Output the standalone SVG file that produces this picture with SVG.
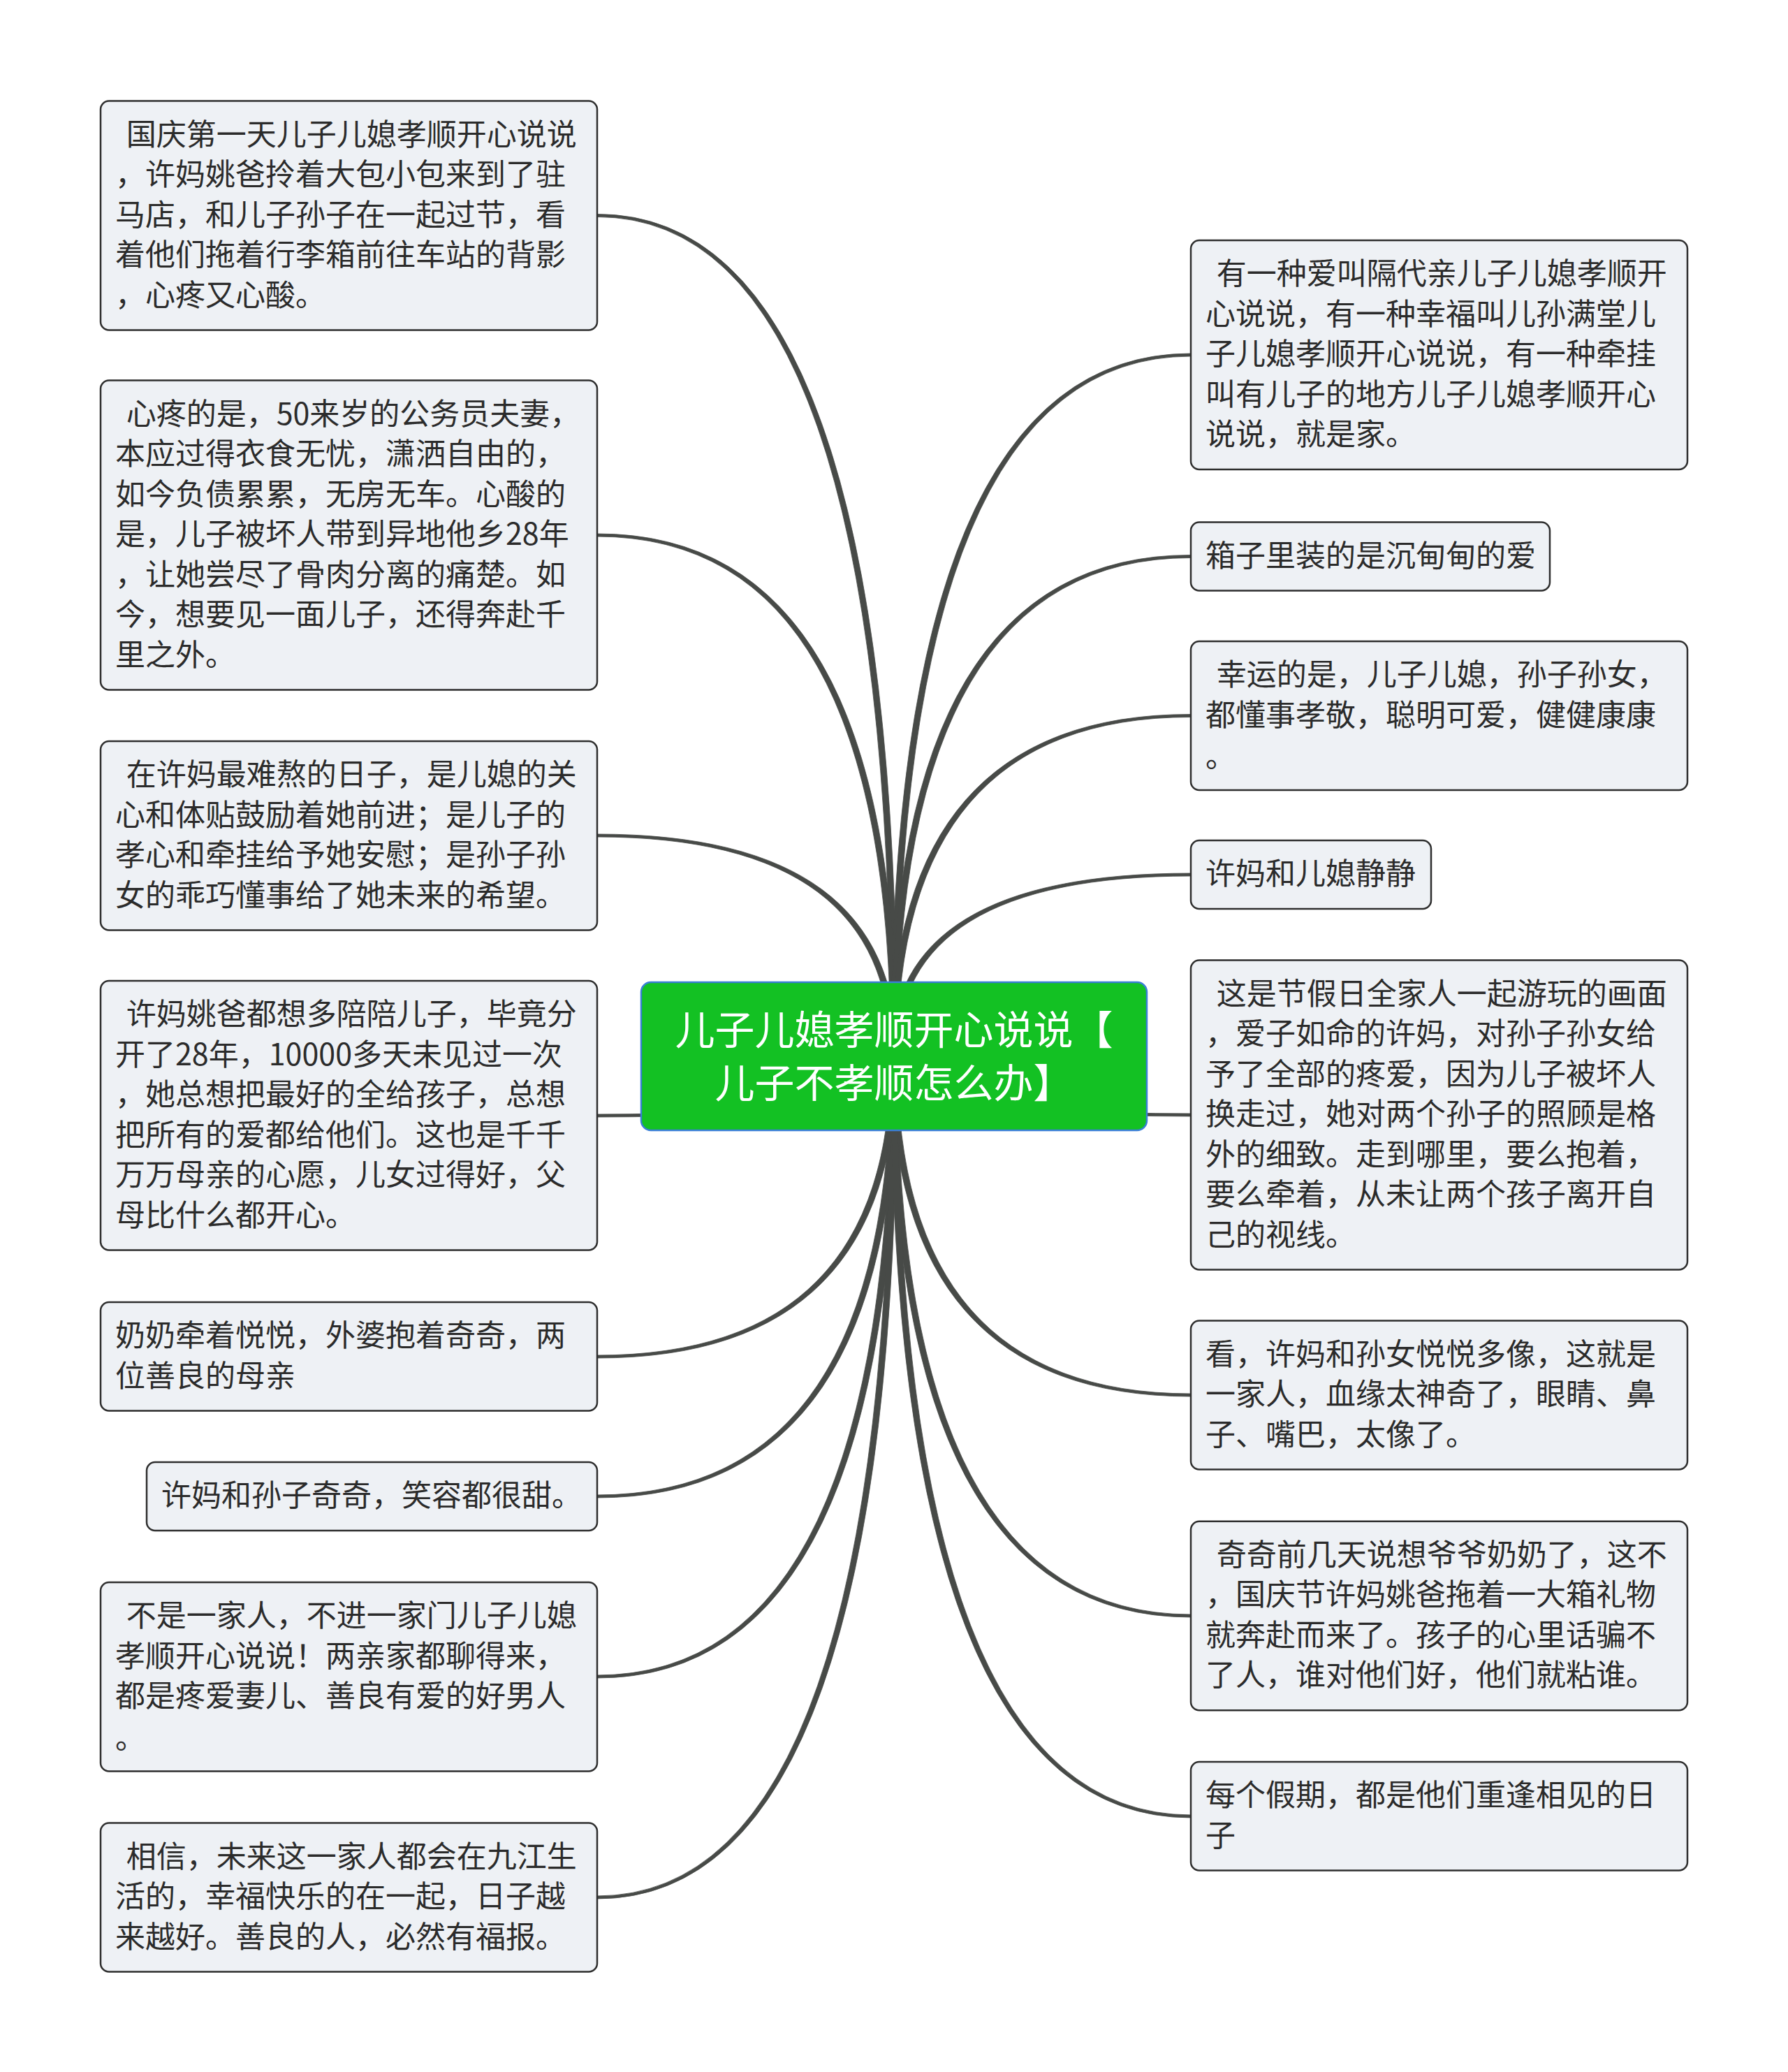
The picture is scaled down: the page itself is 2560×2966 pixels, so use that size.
<svg xmlns="http://www.w3.org/2000/svg" width="2560" height="2966" viewBox="0 0 2560 2966">
<style>
.bg{fill:#ffffff}
.conn{fill:#474a47;stroke:#474a47;stroke-width:0.8;stroke-linejoin:round}
.box{fill:#eef1f5;stroke:#2e2e2e;stroke-width:2.5}
.root{fill:#13c123;stroke:#3a7fd6;stroke-width:2.5}
.t{font-family:"Noto Sans CJK SC","Noto Sans",sans-serif;font-size:43px;fill:#2b2b2b}
.rt{font-family:"Noto Sans CJK SC","Noto Sans",sans-serif;font-size:57px;fill:#ffffff;text-anchor:middle}
</style>
<rect class="bg" x="0" y="0" width="2560" height="2966"/>
<g id="connectors">
<path class="conn" d="M855,306.5 Q1284.5,306.5 1284.5,1512 L1275.5,1512 Q1275.5,310.5 855,310.5 Z"/>
<path class="conn" d="M855,764 Q1284.5,764 1284.5,1512 L1275.5,1512 Q1275.5,768 855,768 Z"/>
<path class="conn" d="M855,1194 Q1284.5,1194 1284.5,1512 L1275.5,1512 Q1275.5,1198 855,1198 Z"/>
<path class="conn" d="M855,1599 Q1284.5,1599 1284.5,1512 L1275.5,1512 Q1275.5,1595 855,1595 Z"/>
<path class="conn" d="M855,1944 Q1284.5,1944 1284.5,1512 L1275.5,1512 Q1275.5,1940 855,1940 Z"/>
<path class="conn" d="M855,2144 Q1284.5,2144 1284.5,1512 L1275.5,1512 Q1275.5,2140 855,2140 Z"/>
<path class="conn" d="M855,2402 Q1284.5,2402 1284.5,1512 L1275.5,1512 Q1275.5,2398 855,2398 Z"/>
<path class="conn" d="M855,2718 Q1284.5,2718 1284.5,1512 L1275.5,1512 Q1275.5,2714 855,2714 Z"/>
<path class="conn" d="M1705,506 Q1275.5,506 1275.5,1512 L1284.5,1512 Q1284.5,510 1705,510 Z"/>
<path class="conn" d="M1705,794.5 Q1275.5,794.5 1275.5,1512 L1284.5,1512 Q1284.5,798.5 1705,798.5 Z"/>
<path class="conn" d="M1705,1022.5 Q1275.5,1022.5 1275.5,1512 L1284.5,1512 Q1284.5,1026.5 1705,1026.5 Z"/>
<path class="conn" d="M1705,1250 Q1275.5,1250 1275.5,1512 L1284.5,1512 Q1284.5,1254 1705,1254 Z"/>
<path class="conn" d="M1705,1598 Q1275.5,1598 1275.5,1512 L1284.5,1512 Q1284.5,1594 1705,1594 Z"/>
<path class="conn" d="M1705,1999 Q1275.5,1999 1275.5,1512 L1284.5,1512 Q1284.5,1995 1705,1995 Z"/>
<path class="conn" d="M1705,2315 Q1275.5,2315 1275.5,1512 L1284.5,1512 Q1284.5,2311 1705,2311 Z"/>
<path class="conn" d="M1705,2602 Q1275.5,2602 1275.5,1512 L1284.5,1512 Q1284.5,2598 1705,2598 Z"/>
</g>
<g id="root">
<rect class="root" x="918" y="1406" width="724" height="212" rx="14"/>
<text class="rt"><tspan x="1280" y="1495">儿子儿媳孝顺开心说说【</tspan><tspan x="1280" y="1571">儿子不孝顺怎么办】</tspan></text>
</g>
<g id="left1">
<rect class="box" x="144" y="144.5" width="711" height="328" rx="12"/>
<text class="t"><tspan x="171" y="207.5">&#160;国庆第一天儿子儿媳孝顺开心说说</tspan><tspan x="165" y="265">，许妈姚爸拎着大包小包来到了驻</tspan><tspan x="165" y="322.5">马店，和儿子孙子在一起过节，看</tspan><tspan x="165" y="380">着他们拖着行李箱前往车站的背影</tspan><tspan x="165" y="437.5">，心疼又心酸。</tspan></text>
</g>
<g id="left2">
<rect class="box" x="144" y="544.5" width="711" height="443" rx="12"/>
<text class="t"><tspan x="171" y="607.5">&#160;心疼的是，50来岁的公务员夫妻，</tspan><tspan x="165" y="665">本应过得衣食无忧，潇洒自由的，</tspan><tspan x="165" y="722.5">如今负债累累，无房无车。心酸的</tspan><tspan x="165" y="780">是，儿子被坏人带到异地他乡28年</tspan><tspan x="165" y="837.5">，让她尝尽了骨肉分离的痛楚。如</tspan><tspan x="165" y="895">今，想要见一面儿子，还得奔赴千</tspan><tspan x="165" y="952.5">里之外。</tspan></text>
</g>
<g id="left3">
<rect class="box" x="144" y="1061" width="711" height="270.5" rx="12"/>
<text class="t"><tspan x="171" y="1124">&#160;在许妈最难熬的日子，是儿媳的关</tspan><tspan x="165" y="1181.5">心和体贴鼓励着她前进；是儿子的</tspan><tspan x="165" y="1239">孝心和牵挂给予她安慰；是孙子孙</tspan><tspan x="165" y="1296.5">女的乖巧懂事给了她未来的希望。</tspan></text>
</g>
<g id="left4">
<rect class="box" x="144" y="1404" width="711" height="385.5" rx="12"/>
<text class="t"><tspan x="171" y="1467">&#160;许妈姚爸都想多陪陪儿子，毕竟分</tspan><tspan x="165" y="1524.5">开了28年，10000多天未见过一次</tspan><tspan x="165" y="1582">，她总想把最好的全给孩子，总想</tspan><tspan x="165" y="1639.5">把所有的爱都给他们。这也是千千</tspan><tspan x="165" y="1697">万万母亲的心愿，儿女过得好，父</tspan><tspan x="165" y="1754.5">母比什么都开心。</tspan></text>
</g>
<g id="left5">
<rect class="box" x="144" y="1864" width="711" height="155.5" rx="12"/>
<text class="t"><tspan x="165" y="1927">奶奶牵着悦悦，外婆抱着奇奇，两</tspan><tspan x="165" y="1984.5">位善良的母亲</tspan></text>
</g>
<g id="left6">
<rect class="box" x="210" y="2093" width="645" height="98" rx="12"/>
<text class="t"><tspan x="231" y="2156">许妈和孙子奇奇，笑容都很甜。</tspan></text>
</g>
<g id="left7">
<rect class="box" x="144" y="2265" width="711" height="270.5" rx="12"/>
<text class="t"><tspan x="171" y="2328">&#160;不是一家人，不进一家门儿子儿媳</tspan><tspan x="165" y="2385.5">孝顺开心说说！两亲家都聊得来，</tspan><tspan x="165" y="2443">都是疼爱妻儿、善良有爱的好男人</tspan><tspan x="165" y="2502.5">。</tspan></text>
</g>
<g id="left8">
<rect class="box" x="144" y="2609.5" width="711" height="213" rx="12"/>
<text class="t"><tspan x="171" y="2672.5">&#160;相信，未来这一家人都会在九江生</tspan><tspan x="165" y="2730">活的，幸福快乐的在一起，日子越</tspan><tspan x="165" y="2787.5">来越好。善良的人，必然有福报。</tspan></text>
</g>
<g id="right1">
<rect class="box" x="1705" y="344" width="711" height="328" rx="12"/>
<text class="t"><tspan x="1732" y="407">&#160;有一种爱叫隔代亲儿子儿媳孝顺开</tspan><tspan x="1726" y="464.5">心说说，有一种幸福叫儿孙满堂儿</tspan><tspan x="1726" y="522">子儿媳孝顺开心说说，有一种牵挂</tspan><tspan x="1726" y="579.5">叫有儿子的地方儿子儿媳孝顺开心</tspan><tspan x="1726" y="637">说说，就是家。</tspan></text>
</g>
<g id="right2">
<rect class="box" x="1705" y="747.5" width="514" height="98" rx="12"/>
<text class="t"><tspan x="1726" y="810.5">箱子里装的是沉甸甸的爱</tspan></text>
</g>
<g id="right3">
<rect class="box" x="1705" y="918" width="711" height="213" rx="12"/>
<text class="t"><tspan x="1732" y="981">&#160;幸运的是，儿子儿媳，孙子孙女，</tspan><tspan x="1726" y="1038.5">都懂事孝敬，聪明可爱，健健康康</tspan><tspan x="1726" y="1098">。</tspan></text>
</g>
<g id="right4">
<rect class="box" x="1705" y="1203" width="344" height="98" rx="12"/>
<text class="t"><tspan x="1726" y="1266">许妈和儿媳静静</tspan></text>
</g>
<g id="right5">
<rect class="box" x="1705" y="1374.5" width="711" height="443" rx="12"/>
<text class="t"><tspan x="1732" y="1437.5">&#160;这是节假日全家人一起游玩的画面</tspan><tspan x="1726" y="1495">，爱子如命的许妈，对孙子孙女给</tspan><tspan x="1726" y="1552.5">予了全部的疼爱，因为儿子被坏人</tspan><tspan x="1726" y="1610">换走过，她对两个孙子的照顾是格</tspan><tspan x="1726" y="1667.5">外的细致。走到哪里，要么抱着，</tspan><tspan x="1726" y="1725">要么牵着，从未让两个孩子离开自</tspan><tspan x="1726" y="1782.5">己的视线。</tspan></text>
</g>
<g id="right6">
<rect class="box" x="1705" y="1890.5" width="711" height="213" rx="12"/>
<text class="t"><tspan x="1726" y="1953.5">看，许妈和孙女悦悦多像，这就是</tspan><tspan x="1726" y="2011">一家人，血缘太神奇了，眼睛、鼻</tspan><tspan x="1726" y="2068.5">子、嘴巴，太像了。</tspan></text>
</g>
<g id="right7">
<rect class="box" x="1705" y="2177.75" width="711" height="270.5" rx="12"/>
<text class="t"><tspan x="1732" y="2240.75">&#160;奇奇前几天说想爷爷奶奶了，这不</tspan><tspan x="1726" y="2298.25">，国庆节许妈姚爸拖着一大箱礼物</tspan><tspan x="1726" y="2355.75">就奔赴而来了。孩子的心里话骗不</tspan><tspan x="1726" y="2413.25">了人，谁对他们好，他们就粘谁。</tspan></text>
</g>
<g id="right8">
<rect class="box" x="1705" y="2522" width="711" height="155.5" rx="12"/>
<text class="t"><tspan x="1726" y="2585">每个假期，都是他们重逢相见的日</tspan><tspan x="1726" y="2642.5">子</tspan></text>
</g>
</svg>
